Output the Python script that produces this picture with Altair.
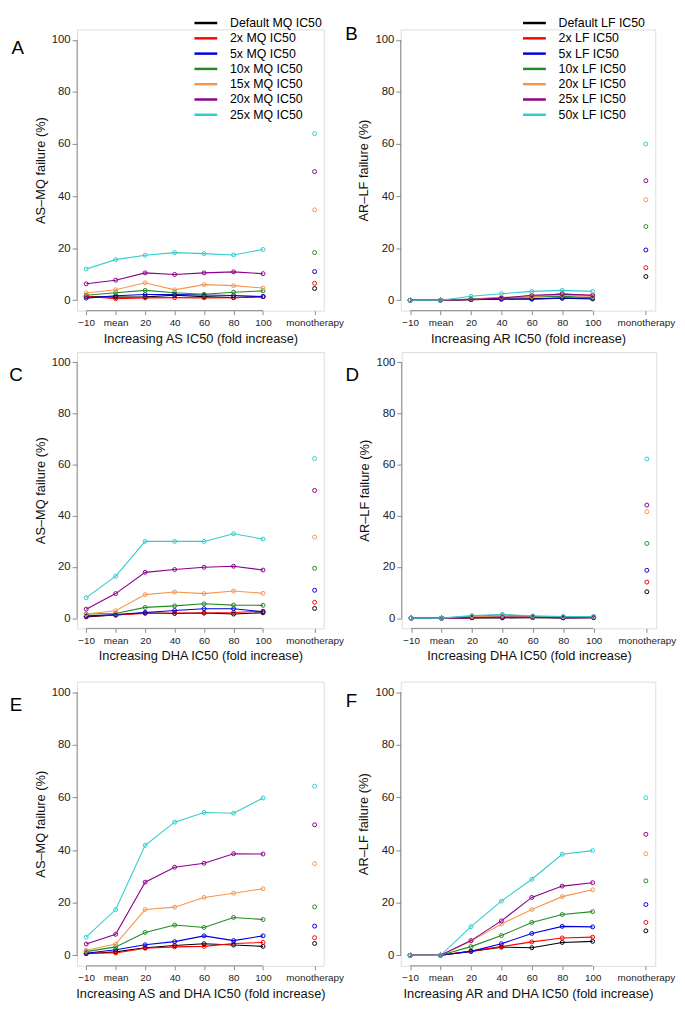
import altair as alt
import pandas as pd

X_LABELS = ["−10", "mean", "20", "40", "60", "80", "100"]
X_POS = [0, 1, 2, 3, 4, 5, 6]
MONO_POS = 7.75
MONO_LABEL = "monotherapy"

MQ_SERIES = ["Default MQ IC50", "2x MQ IC50", "5x MQ IC50", "10x MQ IC50",
             "15x MQ IC50", "20x MQ IC50", "25x MQ IC50"]
LF_SERIES = ["Default LF IC50", "2x LF IC50", "5x LF IC50", "10x LF IC50",
             "20x LF IC50", "25x LF IC50", "50x LF IC50"]
COLORS = ["#000000", "#FF0000", "#0000E0", "#228B22", "#F5964F", "#8B008B", "#33CCCC"]

LETTERS = ["A", "B", "C", "D", "E", "F"]
X_TITLES = ["Increasing AS IC50 (fold increase)", "Increasing AR IC50 (fold increase)",
            "Increasing DHA IC50 (fold increase)", "Increasing DHA IC50 (fold increase)",
            "Increasing AS and DHA IC50 (fold increase)", "Increasing AR and DHA IC50 (fold increase)"]
Y_TITLES = ["AS–MQ failure (%)", "AR–LF failure (%)"] * 3
Y_TICKS = [0, 20, 40, 60, 80, 100]

# combination values per series (black, red, blue, green, orange, purple, cyan)
A_COMBO = [
    [1.4, 1.2, 1.3, 1.9, 1.4, 1.0, 1.4],
    [1.5, 0.6, 0.9, 1.0, 0.9, 1.0, 1.4],
    [0.8, 1.7, 2.2, 2.2, 2.0, 1.8, 1.4],
    [1.9, 2.9, 3.8, 2.9, 2.3, 3.1, 3.6],
    [2.8, 4.0, 6.7, 4.0, 6.0, 5.6, 4.7],
    [6.3, 7.7, 10.5, 9.9, 10.5, 10.9, 10.2],
    [12.0, 15.6, 17.3, 18.3, 17.9, 17.4, 19.5],
]
A_MONO = [4.5, 6.5, 11.0, 18.3, 34.7, 49.4, 64.0]

B_COMBO = [
    [0, 0, 0.2, 0.4, 0.6, 0.8, 0.5],
    [0, 0, 0.3, 0.7, 1.5, 2.5, 1.8],
    [0, 0, 0.3, 0.5, 0.4, 0.8, 0.8],
    [0, 0, 0.5, 1.0, 1.3, 1.5, 1.0],
    [0, 0, 0.4, 1.0, 1.5, 2.0, 1.5],
    [0, 0, 0.3, 0.8, 1.9, 2.3, 1.9],
    [0, 0, 1.5, 2.5, 3.4, 3.8, 3.4],
]
B_MONO = [9.1, 12.5, 19.3, 28.3, 38.6, 45.9, 60.0]

C_COMBO = [
    [0.5, 1.2, 2.1, 1.8, 2.0, 1.6, 2.1],
    [0.8, 1.2, 1.8, 2.0, 2.0, 2.2, 2.7],
    [0.8, 1.4, 2.2, 3.0, 3.7, 3.7, 2.5],
    [1.6, 1.8, 4.2, 4.8, 5.6, 5.1, 5.0],
    [1.6, 2.9, 9.2, 10.2, 9.6, 10.6, 9.7],
    [3.5, 9.6, 17.9, 19.0, 19.9, 20.3, 18.8],
    [8.0, 16.4, 30.0, 30.0, 30.0, 33.0, 30.9],
]
C_MONO = [3.8, 6.2, 10.9, 19.5, 31.7, 49.9, 62.4]

D_COMBO = [
    [0, 0, 0.1, 0.1, 0.2, 0.1, 0.2],
    [0, 0, 0.2, 0.5, 0.3, 0.2, 0.2],
    [0, 0, 0.3, 0.3, 0.5, 0.2, 0.3],
    [0, 0, 0.7, 1.3, 0.6, 0.5, 0.5],
    [0, 0, 0.5, 0.9, 0.5, 0.5, 0.5],
    [0, 0, 0.2, 0.3, 0.4, 0.2, 0.3],
    [0, 0, 1.0, 1.4, 0.9, 0.6, 0.6],
]
D_MONO = [10.3, 14.1, 18.7, 29.2, 41.6, 44.2, 62.2]

E_COMBO = [
    [0.6, 1.3, 2.9, 3.7, 4.4, 3.9, 3.4],
    [0.9, 0.9, 2.7, 3.2, 3.4, 4.5, 4.9],
    [0.8, 2.1, 4.0, 5.2, 7.4, 5.6, 7.4],
    [1.4, 3.2, 8.7, 11.5, 10.6, 14.4, 13.6],
    [1.9, 4.3, 17.4, 18.3, 22.0, 23.6, 25.3],
    [4.3, 8.0, 27.8, 33.5, 35.0, 38.6, 38.5],
    [6.9, 17.4, 41.8, 50.6, 54.3, 54.0, 59.8],
]
E_MONO = [4.5, 6.7, 11.1, 18.4, 34.8, 49.6, 64.3]

F_COMBO = [
    [0, 0, 1.5, 3.1, 2.9, 4.9, 5.3],
    [0, 0, 1.6, 3.3, 5.1, 6.6, 6.9],
    [0, 0, 1.5, 4.4, 8.3, 11.0, 10.8],
    [0, 0, 3.3, 7.5, 12.5, 15.5, 16.6],
    [0, 0, 5.4, 11.9, 17.4, 22.3, 24.9],
    [0, 0, 5.6, 13.1, 22.0, 26.3, 27.6],
    [0, 0, 10.9, 20.6, 28.9, 38.4, 39.8],
]
F_MONO = [9.3, 12.5, 19.3, 28.3, 38.6, 46.0, 59.9]

FONT = "Liberation Sans"
AXIS_GRAY = "#8a8a8a"

label_expr = ("datum.value == %s ? '%s' : [%s][datum.value]"
              % (MONO_POS, MONO_LABEL, ",".join("'%s'" % s for s in X_LABELS)))


def panel(idx, series, combo, mono, w, h, letter_xy, legend_xy=None):
    rows = []
    for k, (s, vals, m) in enumerate(zip(series, combo, mono)):
        for p, v in zip(X_POS, vals):
            rows.append({"series": s, "k": k, "x": p, "y": v, "kind": "combo"})
        rows.append({"series": s, "k": k, "x": MONO_POS, "y": m, "kind": "mono"})
    df = pd.DataFrame(rows)

    xscale = alt.Scale(domain=[-0.31, 8.06], nice=False, zero=False)
    yscale = alt.Scale(domain=[-4, 104], nice=False, zero=False)
    xaxis = alt.Axis(values=X_POS + [MONO_POS], labelExpr=label_expr,
                     title=X_TITLES[idx], domain=False, grid=False,
                     tickColor=AXIS_GRAY, tickSize=4, labelFontSize=10,
                     labelPadding=3, titlePadding=5, titleFontSize=13,
                     labelColor="#222", titleColor="#111",
                     titleFontWeight="normal", labelFlush=False,
                     labelOverlap=False)
    yaxis = alt.Axis(values=Y_TICKS, title=Y_TITLES[idx],
                     domain=False, grid=False, tickColor=AXIS_GRAY,
                     tickSize=5, labelFontSize=11.5, labelPadding=2,
                     titlePadding=4, titleFontSize=13, labelColor="#222",
                     titleColor="#111", titleFontWeight="normal",
                     labelOverlap=False)
    xenc = alt.X("x:Q", scale=xscale, axis=xaxis)
    yenc = alt.Y("y:Q", scale=yscale, axis=yaxis)
    if legend_xy is not None:
        legend = alt.Legend(orient="none", legendX=legend_xy[0], legendY=legend_xy[1],
                            title=None, symbolType="M-1.9,0H1.9", symbolStrokeWidth=2.5,
                            symbolSize=148, labelFontSize=12.5, labelOffset=17,
                            rowPadding=1.5, padding=0, offset=0, titlePadding=0,
                            labelColor="#000", labelFont=FONT, labelLimit=300)
    else:
        legend = None
    cscale = alt.Scale(domain=series, range=COLORS)
    base = alt.Chart(df)
    lines = base.transform_filter("datum.kind == 'combo'").mark_line(
        strokeWidth=1.1).encode(
        x=xenc, y=yenc,
        color=alt.Color("series:N", scale=cscale, legend=legend, sort=series),
        order=alt.Order("x:Q"))
    pts = base.mark_point(shape="circle", filled=False, size=16, strokeWidth=1,
                          opacity=1).encode(
        x=xenc, y=yenc,
        color=alt.Color("series:N", scale=cscale, legend=None, sort=series),
        order=alt.Order("k:Q"))
    # R-style axis lines spanning the tick range only
    xline = alt.Chart(pd.DataFrame({"x": [X_POS[0]], "x2": [X_POS[-1]]})).mark_rule(
        color=AXIS_GRAY, strokeWidth=1).encode(x=xenc, x2="x2:Q", y=alt.value(h))
    yline = alt.Chart(pd.DataFrame({"y": [Y_TICKS[0]], "y2": [Y_TICKS[-1]]})).mark_rule(
        color=AXIS_GRAY, strokeWidth=1).encode(y=yenc, y2="y2:Q", x=alt.value(0))
    letter = alt.Chart(pd.DataFrame({"letter": [LETTERS[idx]]})).mark_text(
        fontSize=19, font=FONT, align="center", baseline="middle", color="#000").encode(
        text="letter:N", x=alt.value(letter_xy[0]), y=alt.value(letter_xy[1]))
    return alt.layer(lines, pts, xline, yline, letter).properties(width=w, height=h)


LW, RW = 250, 258
pA = panel(0, MQ_SERIES, A_COMBO, A_MONO, LW, 285, (-60, 19), (123, -14))
pB = panel(1, LF_SERIES, B_COMBO, B_MONO, RW, 285, (-50, 5), (128, -14))
pC = panel(2, MQ_SERIES, C_COMBO, C_MONO, LW, 280, (-62, 23))
pD = panel(3, LF_SERIES, D_COMBO, D_MONO, RW, 280, (-50, 23))
pE = panel(4, MQ_SERIES, E_COMBO, E_MONO, LW, 288, (-62, 24))
pF = panel(5, LF_SERIES, F_COMBO, F_MONO, RW, 288, (-50, 20))


def row(a, b):
    return alt.hconcat(a, b, spacing=0).resolve_scale(
        color="independent").resolve_legend(color="independent")


top = alt.vconcat(row(pA, pB), row(pC, pD), spacing=5).resolve_scale(
    color="independent").resolve_legend(color="independent")

chart = alt.vconcat(top, row(pE, pF), spacing=17).resolve_scale(
    color="independent").resolve_legend(color="independent").properties(
    padding=0).configure_view(strokeWidth=0).configure(font=FONT)

chart.save("out.html", embed_options={"renderer": "svg", "actions": False})
